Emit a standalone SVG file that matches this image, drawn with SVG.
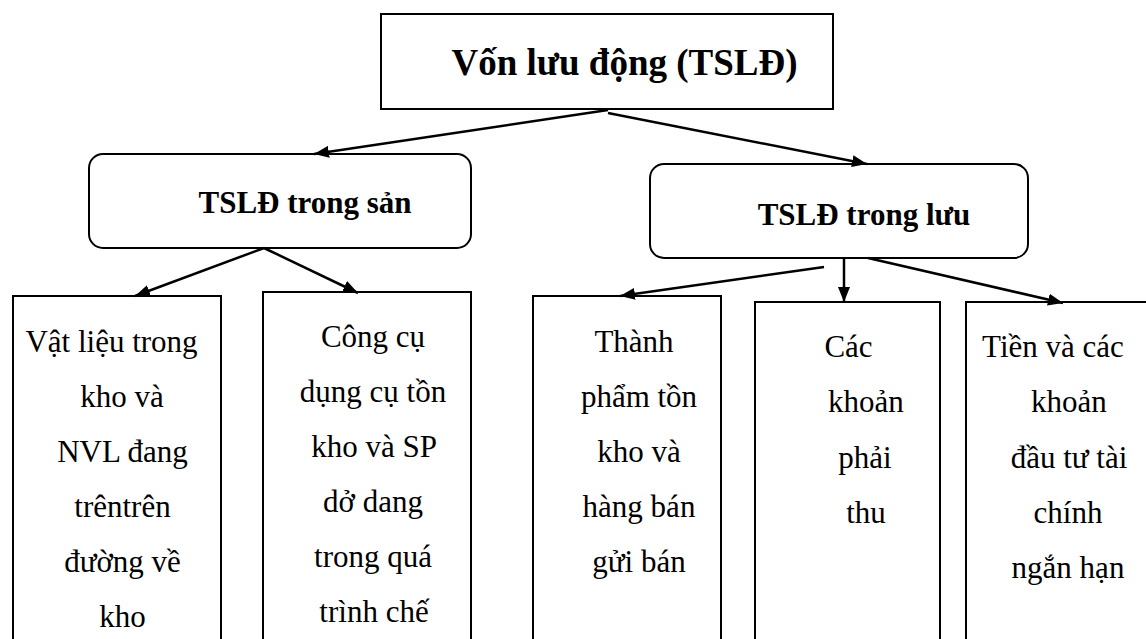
<svg xmlns="http://www.w3.org/2000/svg" width="1146" height="639" viewBox="0 0 1146 639">
<style>
.box{fill:#fff;stroke:#000;stroke-width:2}
text{font-family:'Liberation Serif',Tinos,'Times New Roman','DejaVu Serif',serif;fill:#000;text-anchor:middle}
.t1{font-weight:bold;font-size:37px}
.t2{font-weight:bold;font-size:31px}
.t3{font-size:31px}
.edge{stroke:#000;stroke-width:2.5;fill:none;marker-end:url(#ah)}
</style>
<defs>
<marker id="ah" markerUnits="userSpaceOnUse" markerWidth="16" markerHeight="12" refX="15" refY="6" orient="auto">
<path d="M0,0 L15,6 L0,12 z" fill="#000"/>
</marker>
</defs>
<rect width="1146" height="639" fill="#fff"/>
<g id="root">
<rect class="box" x="381" y="14" width="452" height="95" stroke-width="2.5"/>
<text class="t1" x="624.5" y="75" font-family="Liberation Serif, serif">Vốn lưu động (TSLĐ)</text>
</g>
<g id="san-xuat">
<rect class="box" x="89" y="154" width="382" height="94" rx="14"/>
<text class="t2" x="305" y="213">TSLĐ trong sản</text>
</g>
<g id="luu-thong">
<rect class="box" x="650" y="164" width="378" height="94" rx="14"/>
<text class="t2" x="864" y="225">TSLĐ trong lưu</text>
</g>
<g id="vat-lieu">
<rect class="box" x="13" y="296" width="208" height="360"/>
<text class="t3" x="111.5" y="352">Vật liệu trong</text>
<text class="t3" x="122" y="407">kho và</text>
<text class="t3" x="122.5" y="462">NVL đang</text>
<text class="t3" x="122.5" y="517">trêntrên</text>
<text class="t3" x="122.5" y="572">đường về</text>
<text class="t3" x="122.5" y="627">kho</text>
</g>
<g id="cong-cu">
<rect class="box" x="263" y="292" width="208" height="360"/>
<text class="t3" x="373" y="347">Công cụ</text>
<text class="t3" x="373" y="402">dụng cụ tồn</text>
<text class="t3" x="374" y="457">kho và SP</text>
<text class="t3" x="373" y="512">dở dang</text>
<text class="t3" x="373" y="567">trong quá</text>
<text class="t3" x="374" y="622">trình chế</text>
</g>
<g id="thanh-pham">
<rect class="box" x="533" y="296" width="188" height="360"/>
<text class="t3" x="634" y="352">Thành</text>
<text class="t3" x="639" y="407">phẩm tồn</text>
<text class="t3" x="639" y="462">kho và</text>
<text class="t3" x="639" y="517">hàng bán</text>
<text class="t3" x="639" y="572">gửi bán</text>
</g>
<g id="phai-thu">
<rect class="box" x="755" y="302" width="185" height="360"/>
<text class="t3" x="848.5" y="357">Các</text>
<text class="t3" x="866" y="412">khoản</text>
<text class="t3" x="865" y="468">phải</text>
<text class="t3" x="866" y="523">thu</text>
</g>
<g id="tien">
<rect class="box" x="966" y="302" width="220" height="360"/>
<text class="t3" x="1053" y="357">Tiền và các</text>
<text class="t3" x="1069" y="412">khoản</text>
<text class="t3" x="1069" y="468">đầu tư tài</text>
<text class="t3" x="1068" y="523">chính</text>
<text class="t3" x="1068" y="578">ngắn hạn</text>
</g>
<g id="connectors">
<line class="edge" x1="608" y1="110" x2="314" y2="154"/>
<line class="edge" x1="608" y1="113" x2="867" y2="164"/>
<line class="edge" x1="264" y1="248" x2="135" y2="296"/>
<line class="edge" x1="264" y1="248" x2="358" y2="293"/>
<line class="edge" x1="824" y1="267" x2="620" y2="296"/>
<line class="edge" x1="844" y1="258" x2="844" y2="302"/>
<line class="edge" x1="868" y1="258" x2="1063" y2="303"/>
</g>
</svg>
